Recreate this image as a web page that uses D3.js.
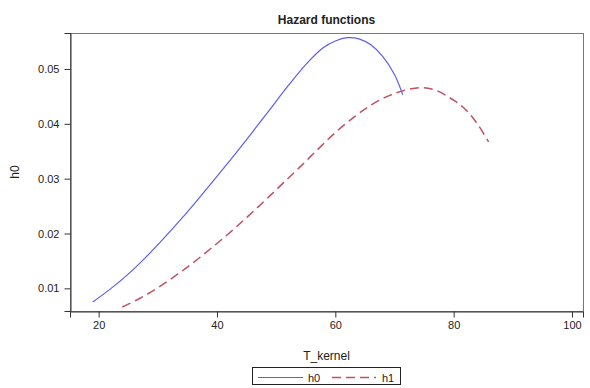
<!DOCTYPE html>
<html>
<head>
<meta charset="utf-8">
<script src="https://cdn.jsdelivr.net/npm/d3@7"></script>
<style>
  body { margin: 0; background: #fff; }
  text { font-family: "Liberation Sans", Arial, sans-serif; fill: #222; }
</style>
</head>
<body>
<svg id="chart" width="590" height="388"></svg>
<script>
// values
var t0 = [19, 22, 25, 28, 31, 34, 37, 40, 43, 46, 49, 52, 55, 58, 60, 62, 64, 66, 68, 70, 71.4];
var h0 = [0.0075, 0.0099, 0.0126, 0.0157, 0.0191, 0.0227, 0.0265, 0.0304, 0.0344, 0.0385, 0.0427, 0.0469, 0.0508, 0.0539, 0.0551, 0.0557, 0.0555, 0.0544, 0.0523, 0.0490, 0.0453];

var t1 = [24, 27, 30, 33, 36, 39, 42, 45, 48, 51, 54, 57, 60, 63, 66, 69, 72, 74.5, 77, 80, 82, 84, 85.9];
var h1 = [0.0066, 0.0082, 0.0101, 0.0123, 0.0147, 0.0173, 0.0200, 0.0229, 0.0259, 0.0290, 0.0321, 0.0353, 0.0384, 0.0411, 0.0434, 0.0451, 0.0462, 0.0466, 0.0461, 0.0443, 0.0426, 0.0400, 0.0367];

var xTicks = [20, 40, 60, 80, 100];
var yTicks = [0.01, 0.02, 0.03, 0.04, 0.05];

var margin = {left: 70, top: 33, right: 583, bottom: 311};

var svg = d3.select("#chart");

var x = d3.scaleLinear().domain([15.16, 101.86]).range([margin.left, margin.right]);
var y = d3.scaleLinear().domain([0.00587, 0.05656]).range([margin.bottom, margin.top]);

// frame
svg.append("rect")
    .attr("x", margin.left + 0.5).attr("y", margin.top + 0.5)
    .attr("width", margin.right - margin.left).attr("height", margin.bottom - margin.top)
    .attr("fill", "none").attr("stroke", "#777").attr("stroke-width", 1);

var xAxis = svg.append("g")
    .attr("transform", "translate(0," + (margin.bottom + 0.5) + ")")
    .call(d3.axisBottom(x).tickValues(xTicks).tickSize(6).tickPadding(4).tickFormat(d3.format("d")));

var yAxis = svg.append("g")
    .attr("transform", "translate(" + (margin.left + 0.5) + ",0)")
    .call(d3.axisLeft(y).tickValues(yTicks).tickSize(6).tickPadding(5).tickFormat(d3.format(".2f")));

[xAxis, yAxis].forEach(function (a) {
    a.selectAll("text").style("font-size", "11px").style("font-family", "Liberation Sans, Arial, sans-serif").attr("fill", "#222");
    a.selectAll("line").attr("stroke", "#333");
    a.select(".domain").attr("stroke", "#333");
});

// curves
var line = d3.line()
    .x(function (d) { return x(d[0]); })
    .y(function (d) { return y(d[1]); })
    .curve(d3.curveCatmullRom.alpha(0.5));

svg.append("path")
    .datum(d3.zip(t0, h0))
    .attr("d", line)
    .attr("fill", "none").attr("stroke", "#5c5cf2").attr("stroke-width", 1.2);

svg.append("path")
    .datum(d3.zip(t1, h1))
    .attr("d", line)
    .attr("fill", "none").attr("stroke", "#c44f62").attr("stroke-width", 1.5)
    .attr("stroke-dasharray", "9,5");

// titles
svg.append("text")
    .attr("x", (margin.left + margin.right) / 2).attr("y", 24)
    .attr("text-anchor", "middle")
    .style("font-size", "12px").style("font-weight", "bold")
    .text("Hazard functions");

svg.append("text")
    .attr("x", (margin.left + margin.right) / 2).attr("y", 360)
    .attr("text-anchor", "middle")
    .style("font-size", "12px")
    .text("T_kernel");

svg.append("text")
    .attr("transform", "translate(19," + ((margin.top + margin.bottom) / 2) + ") rotate(-90)")
    .attr("text-anchor", "middle")
    .style("font-size", "12px")
    .text("h0");

// legend
var legend = svg.append("g");
legend.append("rect")
    .attr("x", 252.5).attr("y", 367.5).attr("width", 148).attr("height", 17)
    .attr("fill", "#fff").attr("stroke", "#222");
legend.append("line")
    .attr("x1", 258).attr("x2", 303).attr("y1", 377.5).attr("y2", 377.5)
    .attr("stroke", "#5c5cf2").attr("stroke-width", 1.2);
legend.append("text")
    .attr("x", 308).attr("y", 381.5).style("font-size", "11px").text("h0");
legend.append("line")
    .attr("x1", 332).attr("x2", 376).attr("y1", 377.5).attr("y2", 377.5)
    .attr("stroke", "#c44f62").attr("stroke-width", 1.5).attr("stroke-dasharray", "9,5");
legend.append("text")
    .attr("x", 382).attr("y", 381.5).style("font-size", "11px").text("h1");
</script>
</body>
</html>
